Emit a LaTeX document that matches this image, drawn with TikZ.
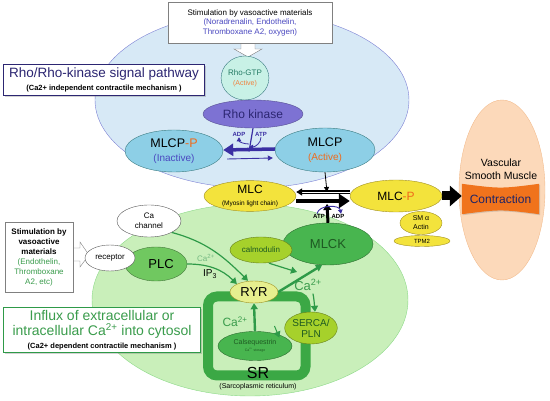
\documentclass[tikz,border=0pt]{standalone}
\usepackage{fontspec}
\setmainfont{Liberation Sans}
\usetikzlibrary{shapes.geometric,arrows.meta,shadows}
\newcommand{\fsz}[2]{\fontsize{#1}{#2}\selectfont}

\begin{document}
\begin{tikzpicture}[x=1pt,y=-1pt,
  oval/.style={ellipse,draw,inner sep=0pt,align=center},
  txtbox/.style={draw,fill=white,inner sep=0pt,align=center},
  lbl/.style={inner sep=0pt,align=center},
  purarrow/.style={draw=purarr,-{Triangle[length=4pt,width=4.5pt]}},
  grnarrow/.style={draw=grnarr,line width=1.6pt,-{Triangle[length=6pt,width=7pt]}}]
\definecolor{bluebg}{HTML}{D7E9F6}
\definecolor{blueline}{HTML}{7C80D4}
\definecolor{greenbg}{HTML}{C9EFBA}
\definecolor{greenline}{HTML}{8CD988}
\definecolor{rhogtp}{HTML}{C8F1E6}
\definecolor{tealline}{HTML}{3C7C82}
\definecolor{tealtxt}{HTML}{237A63}
\definecolor{rhok}{HTML}{7D72D3}
\definecolor{rhoktxt}{HTML}{2C2672}
\definecolor{mlcpblue}{HTML}{8DCFE6}
\definecolor{purarr}{HTML}{3B2FA3}
\definecolor{bluetxt}{HTML}{4A48C0}
\definecolor{porange}{HTML}{F06A1A}
\definecolor{mlcyel}{HTML}{F3E33C}
\definecolor{yelline}{HTML}{A08F22}
\definecolor{peach}{HTML}{FCD9BA}
\definecolor{peachline}{HTML}{F2BC8E}
\definecolor{corange}{HTML}{F0731C}
\definecolor{navy}{HTML}{1E2466}
\definecolor{plcgrn}{HTML}{70C860}
\definecolor{calmgrn}{HTML}{A6D12B}
\definecolor{mlckgrn}{HTML}{48B54F}
\definecolor{ryryel}{HTML}{E6EF8E}
\definecolor{srgrn}{HTML}{3BA845}
\definecolor{grnarr}{HTML}{2E9A48}
\definecolor{grntxt}{HTML}{3A9C4C}
\definecolor{dkgrn}{HTML}{1E5A22}
\useasboundingbox (0,0) rectangle (550,401);

% background zones
\node[oval,fill=bluebg,draw=blueline,minimum width=314,minimum height=176] (rhozone) at (252,100) {};
\node[oval,fill=greenbg,draw=greenline,minimum width=316,minimum height=192] (cazone) at (250,300) {};
\node[oval,fill=peach,draw=peachline,minimum width=86,minimum height=180] (vsm) at (502,190) {};

% top stimulation box with pointer
\filldraw[fill=white,draw=gray] (241,43) -- (241,49) -- (234,49) -- (248,57) -- (262,49) -- (255,49) -- (255,43);
\node[txtbox,draw=gray,minimum width=164,minimum height=41,font=\fsz{8}{9.5}] (stimtop) at (250,22.5)
  {Stimulation by vasoactive materials\\
   \color{bluetxt}(Noradrenalin, Endothelin,\\\color{bluetxt}Thromboxane A2, oxygen)};

% Rho pathway
\node[txtbox,draw=rhoktxt,line width=0.8pt,minimum width=201,minimum height=31,font=\fsz{13.5}{13},
  drop shadow={opacity=0.35,shadow xshift=1.5pt,shadow yshift=-1.5pt}] (rhotitle) at (104,80)
  {\color{rhoktxt}Rho/Rho-kinase signal pathway\\
   \fsz{7.5}{9}\bfseries(Ca2+ independent contractile mechanism )};
\node[oval,fill=rhogtp,draw=tealline,minimum width=43,minimum height=44,font=\fsz{8}{10}] (rhogtp) at (245,78)
  {\color{tealtxt}Rho-GTP\\\fsz{7}{8}\color{porange!85}(Active)};
\node[oval,fill=rhok,draw=rhok!70!black,minimum width=100,minimum height=28,font=\fsz{12}{14}] (rhok) at (253,114)
  {\color{rhoktxt}Rho kinase};
\node[oval,fill=mlcpblue,draw=tealline,minimum width=98,minimum height=42,font=\fsz{12.5}{14}] (mlcpi) at (174,151)
  {MLCP\textcolor{porange}{-P}\\\fsz{10}{12}\color{bluetxt}(Inactive)};
\node[oval,fill=mlcpblue,draw=tealline,minimum width=100,minimum height=44,font=\fsz{12.5}{14}] (mlcpa) at (325,150)
  {MLCP\\\fsz{10}{12}\color{porange}(Active)};
\coordinate (pmid) at (249,152);
\coordinate (pjoin) at (249,144);
\node[lbl,text=purarr,font=\fsz{6}{7}\bfseries] (adp) at (239,134) {ADP};
\node[lbl,text=purarr,font=\fsz{6}{7}\bfseries] (atp) at (261,134) {ATP};
\draw[purarr,line width=3.5pt,-{Triangle[length=10pt,width=12pt]}] ([yshift=1pt]mlcpa.west) -- ([yshift=1pt]mlcpi.east);
\draw[purarr,line width=0.9pt,-{Triangle[length=5pt,width=5pt]}] ([yshift=-8pt,xshift=4pt]mlcpi.east) -- ([yshift=-8pt,xshift=-2pt]mlcpa.west);
\draw[purarrow,line width=1.2pt] (rhok.south) -- (pmid);
\draw[purarrow,line width=0.8pt] (pjoin) to[out=180,in=-90] ([yshift=-1pt]adp.south);
\draw[purarrow,line width=0.8pt] ([yshift=-1pt]atp.south) to[out=-90,in=0] ([yshift=-3pt]pjoin);

% myosin light chain
\node[oval,fill=mlcyel,draw=yelline,minimum width=92,minimum height=30,font=\fsz{12}{12}] (mlc) at (250,196)
  {MLC\\\fsz{6.5}{8}(Myosin light chain)};
\node[oval,fill=mlcyel,draw=yelline,minimum width=92,minimum height=32,font=\fsz{12}{14}] (mlcP) at (396,196)
  {MLC\textcolor{porange}{-P}};
\node[oval,fill=mlcyel,draw=yelline,minimum width=42,minimum height=23,font=\fsz{7}{9}] (actin) at (421,223)
  {SM α\\Actin};
\node[oval,fill=mlcyel,draw=yelline,minimum width=56,minimum height=11,font=\fsz{6}{7}] (tpm) at (422,241)
  {TPM2};
\coordinate (mdown) at (327,192);
\coordinate (mup) at (327,204);
\draw[line width=0.8pt,-{Triangle[length=5pt,width=5pt]}] (mlcpa.south) -- (mdown);
\draw[black,line width=1.6pt,double=white,double distance=0.8pt,-{Triangle[length=6pt,width=7pt]}] ([yshift=4pt]mlcP.west) -- ([yshift=4pt]mlc.east);
\draw[line width=4pt,-{Triangle[length=11pt,width=14pt]}] ([yshift=-5pt]mlc.east) -- ([yshift=-5pt]mlcP.west);

% contraction
\node[lbl,minimum width=77,minimum height=30] (contr) at (500.5,199) {};
\fill[corange,drop shadow={opacity=0.3,shadow xshift=1pt,shadow yshift=-1pt}]
  (contr.north west) .. controls ([yshift=-5pt]contr.north) .. (contr.north east)
  -- (contr.south east) .. controls ([yshift=5pt]contr.south) .. (contr.south west) -- cycle;
\node[lbl,text=navy,font=\fsz{12}{14}] (contrtxt) at (contr.center) {Contraction};
\node[lbl,font=\fsz{10.5}{13}] (vsmtxt) at (501,169) {Vascular\\Smooth Muscle};
\draw[line width=9pt,-{Triangle[length=12pt,width=20pt]}] (mlcP.east) -- (mlcP.east -| contr.west);

% Ca2+ dependent pathway
\filldraw[fill=white,draw=gray] (73,248) -- (80,248) -- (80,242) -- (89,255) -- (80,267) -- (80,261) -- (73,261);
\node[txtbox,draw=gray,minimum width=68,minimum height=70,font=\fsz{8}{10}] (stimleft) at (39,257)
  {\bfseries Stimulation by\\\bfseries vasoactive\\\bfseries materials\\
   \color{grntxt}(Endothelin,\\\color{grntxt}Thromboxane\\\color{grntxt}A2, etc)};
\node[oval,fill=white,draw=gray!70!black,minimum width=64,minimum height=32,font=\fsz{8}{10}] (cach) at (149,221)
  {Ca\\channel};
\node[oval,fill=plcgrn,draw=plcgrn!60!black,minimum width=62,minimum height=34,font=\fsz{13}{15}] (plc) at (156,264)
  {\hspace{10pt}PLC};
\node[oval,fill=white,draw=gray!70!black,minimum width=50,minimum height=26,font=\fsz{8}{10}] (recep) at (110,258)
  {receptor};
\node[txtbox,draw=grnarr,line width=0.8pt,minimum width=197,minimum height=45,font=\fsz{14}{15},
  drop shadow={opacity=0.35,shadow xshift=1.5pt,shadow yshift=-1.5pt}] (influx) at (102,330)
  {\color{grntxt}Influx of extracellular or\\
   \color{grntxt}intracellular Ca\textsuperscript{2+} into cytosol\\[-2pt]
   \fsz{7.5}{9}\bfseries(Ca2+ dependent contractile mechanism )};
\node[lbl,text=grntxt!70,font=\fsz{8}{10}] (caplc) at (206,258) {Ca\textsuperscript{2+}};
\node[lbl,font=\fsz{10}{12}] (ip) at (210,274) {IP\textsubscript{3}};

% sarcoplasmic reticulum
\draw[srgrn,line width=10pt,rounded corners=9pt] (208,296.5) rectangle (305.5,375.5);
\node[oval,fill=mlckgrn,draw=mlckgrn!60!black,minimum width=90,minimum height=42,font=\fsz{13}{15}] (mlck) at (328,244)
  {\color{dkgrn}MLCK};
\node[oval,fill=calmgrn,draw=calmgrn!60!black,minimum width=62,minimum height=26,font=\fsz{8}{10}] (calm) at (261,250)
  {\color{dkgrn}calmodulin};
\node[oval,fill=ryryel,draw=yelline,minimum width=48,minimum height=22,font=\fsz{13}{15}] (ryr) at (254,292)
  {RYR};
\node[oval,fill=mlckgrn,draw=mlckgrn!60!black,minimum width=74,minimum height=29,font=\fsz{7}{7}] (calseq) at (255,346)
  {\color{dkgrn}Calsequestrin\\\fsz{3.5}{5}\color{dkgrn}Ca\textsuperscript{2+} storage};
\node[oval,fill=calmgrn,draw=calmgrn!60!black,minimum width=52,minimum height=32,font=\fsz{10}{11}] (serca) at (311,328)
  {\color{dkgrn}SERCA/\\\color{dkgrn}PLN};
\node[lbl,font=\fsz{16}{18}] (srtxt) at (258,373) {SR};
\node[lbl,font=\fsz{7}{9}] (srfull) at (258,387) {(Sarcoplasmic reticulum)};
\node[lbl,text=grntxt,font=\fsz{12}{14}] (casr) at (235,322) {Ca\textsuperscript{2+}};
\node[lbl,text=grntxt,font=\fsz{13}{15}] (caup) at (308,285) {Ca\textsuperscript{2+}};

\draw[grnarrow,line width=1.2pt] (cach.south east) to[out=-15,in=135] ([xshift=-6pt]ryr.north);
\draw[grnarrow,line width=1.2pt] (plc.east) to[out=0,in=135] (ryr.north west);
\draw[grnarrow,line width=1.2pt] ([xshift=8pt]calm.south) -- (297,272) coordinate (calmend);
\draw[grnarrow,line width=2.4pt] (ryr.east) -- ([xshift=-6pt]mlck.south);
\draw[grnarrow,line width=1.2pt] ([xshift=5pt,yshift=-3pt]caup.south) to[out=-80,in=95] ([xshift=4pt]serca.north);
\draw[grnarrow,line width=1pt] ([xshift=-10pt,yshift=2pt]serca.west) -- ([xshift=-2pt,yshift=-2pt]calseq.north east);
\draw[grnarrow,line width=2.4pt] (calseq.north) -- (ryr.south);

% MLCK phosphorylation
\node[lbl,font=\fsz{6}{7}\bfseries] (atp2) at (319,216) {ATP};
\node[lbl,font=\fsz{6}{7}\bfseries] (adp2) at (338,216) {ADP};
\draw[line width=3pt,-{Triangle[length=6pt,width=8pt]}] (mlck.north) -- (mup);
\draw[purarrow,line width=0.9pt] ([xshift=-2pt]atp2.north) to[out=80,in=100] ([xshift=3pt]adp2.north);
\end{tikzpicture}
\end{document}
